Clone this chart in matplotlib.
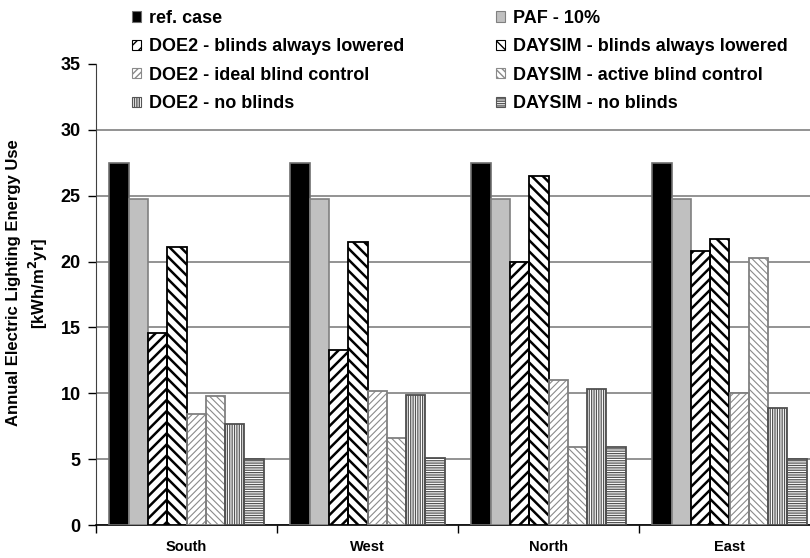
import matplotlib
matplotlib.use("Agg")
import matplotlib.pyplot as plt
import numpy as np
from matplotlib.patches import Patch

plt.rcParams['font.family'] = ['Liberation Sans', 'DejaVu Sans']
plt.rcParams['font.weight'] = 'bold'

categories = ["South", "West", "North", "East"]
ref_case = [27.5, 27.5, 27.5, 27.5]
paf_10 = [24.75, 24.75, 24.75, 24.75]
doe2_lowered = [14.6, 13.3, 20.0, 20.8]
daysim_lowered = [21.1, 21.5, 26.5, 21.7]
doe2_ideal = [8.4, 10.2, 11.0, 10.0]
daysim_active = [9.8, 6.6, 5.9, 20.3]
doe2_noblinds = [7.7, 9.9, 10.3, 8.9]
daysim_noblinds = [5.0, 5.1, 5.9, 5.0]
yticks = [0, 5, 10, 15, 20, 25, 30, 35]

labels = ["ref. case", "PAF - 10%",
          "DOE2 - blinds always lowered", "DAYSIM - blinds always lowered",
          "DOE2 - ideal blind control", "DAYSIM - active blind control",
          "DOE2 - no blinds", "DAYSIM - no blinds"]
series = [ref_case, paf_10, doe2_lowered, daysim_lowered,
          doe2_ideal, daysim_active, doe2_noblinds, daysim_noblinds]

# style: facecolor, hatch, hatch colour, hatch lw, outline colour
styles = [
    dict(fc="black", hatch=None, hc="black", hlw=1.0, ec="#707070"),
    dict(fc="#C0C0C0", hatch=None, hc="#808080", hlw=1.0, ec="#808080"),
    dict(fc="white", hatch="///", hc="black", hlw=1.8, ec="black"),
    dict(fc="white", hatch="\\\\\\", hc="black", hlw=1.8, ec="black"),
    dict(fc="white", hatch="/////", hc="#8a8a8a", hlw=0.8, ec="#808080"),
    dict(fc="white", hatch="\\\\\\\\\\", hc="#8a8a8a", hlw=0.8, ec="#808080"),
    dict(fc="white", hatch="|||||||", hc="#555555", hlw=0.9, ec="#505050"),
    dict(fc="white", hatch="-------", hc="#555555", hlw=0.9, ec="#505050"),
]

W, H = 810, 558
fig = plt.figure(figsize=(W / 100, H / 100), dpi=100)
ax = fig.add_axes([96 / W, 1 - 525 / H, (820 - 96) / W, (525 - 64) / H])

x = np.arange(len(categories))
bw = 0.1066
n = len(series)

def draw_bars(ax, vals, offs, st):
    if st["hatch"]:
        with plt.rc_context({"hatch.linewidth": st["hlw"]}):
            bars = ax.bar(x + offs, vals, bw, facecolor=st["fc"], edgecolor=st["hc"],
                          hatch=st["hatch"], linewidth=0, zorder=3)
            for b in bars:
                if hasattr(b, "set_hatch_linewidth"):
                    b.set_hatch_linewidth(st["hlw"])
        ax.bar(x + offs, vals, bw, facecolor="none", edgecolor=st["ec"], linewidth=1.3, zorder=4)
    else:
        ax.bar(x + offs, vals, bw, facecolor=st["fc"], edgecolor=st["ec"], linewidth=1.2, zorder=3)

for i, (vals, st) in enumerate(zip(series, styles)):
    offs = (i - (n - 1) / 2) * bw
    draw_bars(ax, vals, offs, st)

ax.set_xlim(-0.5, len(categories) - 0.5)
ax.set_ylim(0, 35)
ax.set_yticks(yticks)
ax.set_yticklabels([str(v) for v in yticks], fontsize=13, fontweight="bold")
ax.set_xticks(x)
ax.set_xticklabels(categories, fontsize=10.5, fontweight="bold")
ax.tick_params(axis="x", which="major", length=0, pad=11)
ax.set_xticks(np.arange(-0.5, len(categories), 1.0), minor=True)
ax.tick_params(axis="x", which="minor", length=6, width=1, color="black", direction="out")
ax.tick_params(axis="y", length=6, width=1, direction="out", pad=5)

ax.yaxis.grid(True, color="#808080", linewidth=1.2, zorder=0)
ax.set_axisbelow(True)
ax.get_ygridlines()[-1].set_visible(False)
for s in ["top", "right"]:
    ax.spines[s].set_visible(False)
ax.spines["left"].set_color("#404040")
ax.spines["bottom"].set_color("black")
ax.spines["bottom"].set_linewidth(1.2)

ax.set_ylabel("Annual Electric Lighting Energy Use\n[kWh/m$^\\mathbf{2}$yr]",
              fontsize=12, fontweight="bold", linespacing=1.3)
ax.yaxis.set_label_coords(-0.064, 0.525)

def make_handle(st):
    if st["hatch"]:
        return Patch(facecolor=st["fc"], edgecolor=st["hc"], hatch=st["hatch"], linewidth=0.8)
    return Patch(facecolor=st["fc"], edgecolor=st["ec"], linewidth=0.8)

handles = [make_handle(st) for st in styles]
col1 = [0, 2, 4, 6]
col2 = [1, 3, 5, 7]
leg_kw = dict(frameon=False, handlelength=0.5, handleheight=0.5,
              handletextpad=0.45, labelspacing=0.63, borderaxespad=0, borderpad=0,
              prop=dict(weight="bold", size=13))
leg1 = fig.legend([handles[i] for i in col1], [labels[i] for i in col1],
                  loc="upper left", bbox_to_anchor=(132 / W, 1 - 10 / H), **leg_kw)
leg2 = fig.legend([handles[i] for i in col2], [labels[i] for i in col2],
                  loc="upper left", bbox_to_anchor=(496 / W, 1 - 10 / H), **leg_kw)

fig.savefig("out.png", dpi=100)
